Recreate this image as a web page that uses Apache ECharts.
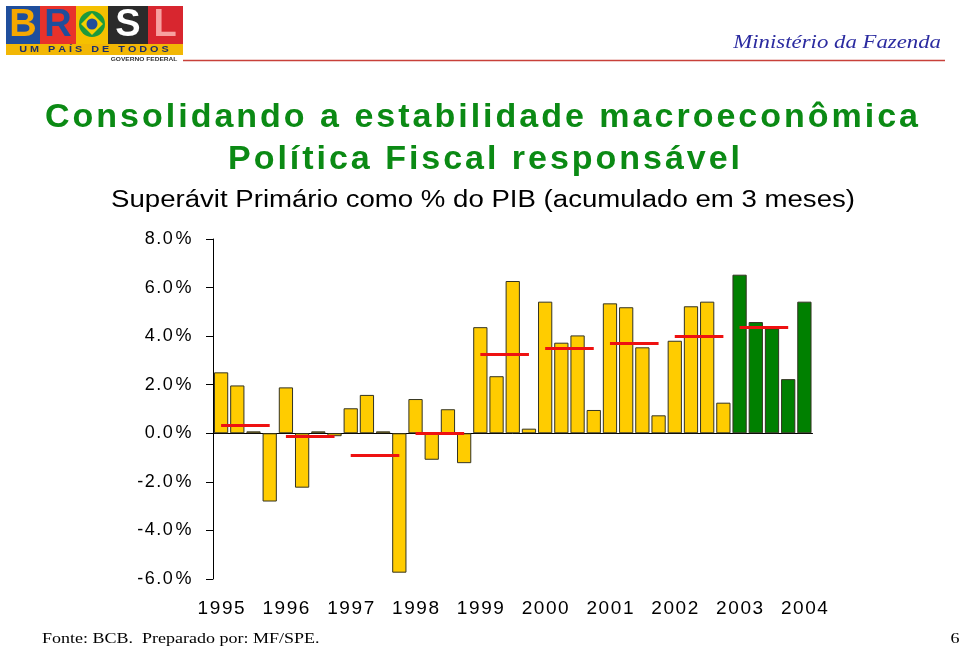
<!DOCTYPE html>
<html><head><meta charset="utf-8">
<script src="https://cdn.jsdelivr.net/npm/echarts@6/dist/echarts.min.js"></script>
<style>html,body{margin:0;padding:0;background:#fff}#c{width:960px;height:651px}</style>
</head><body><div id="c"></div>
<script>
// ---- data ----
const categories = [
  '1995 T1','1995 T2','1995 T3','1995 T4',
  '1996 T1','1996 T2','1996 T3','1996 T4',
  '1997 T1','1997 T2','1997 T3','1997 T4',
  '1998 T1','1998 T2','1998 T3','1998 T4',
  '1999 T1','1999 T2','1999 T3','1999 T4',
  '2000 T1','2000 T2','2000 T3','2000 T4',
  '2001 T1','2001 T2','2001 T3','2001 T4',
  '2002 T1','2002 T2','2002 T3','2002 T4',
  '2003 T1','2003 T2','2003 T3','2003 T4',
  '2004 T1'
];
const surplus = [
  2.51, 1.97, 0.08, -2.81,
  1.89, -2.24, 0.08, -0.12,
  1.03, 1.58, 0.08, -5.74,
  1.41, -1.09, 0.99, -1.23,
  4.37, 2.35, 6.27, 0.19,
  5.42, 3.73, 4.03, 0.96,
  5.35, 5.19, 3.54, 0.74,
  3.81, 5.23, 5.42, 1.26,
  6.53, 4.58, 4.32, 2.23,
  5.42
];
const avgYears = ['1995','1996','1997','1998','1999','2000','2001','2002','2003'];
const annualAverage = [0.35, -0.11, -0.92, 0.01, 3.27, 3.50, 3.69, 4.00, 4.35];
const greenFromYear = '2003';

// ---- helpers ----
const SANS = '"Liberation Sans", Arial, sans-serif';
const SERIF = '"Liberation Serif", "Times New Roman", serif';
function richChars(str) {
  return str.split('').map(ch => {
    const k = ch === '.' ? 'p' : ch === '%' ? 'c' : ch === '-' ? 'm' : 'd';
    return '{' + k + '|' + ch + '}';
  }).join('');
}
function richStyles(size, f) {
  const base = {fontSize: size, fontFamily: SANS, color: '#000', align: 'center'};
  return {
    d: Object.assign({width: size * 0.556 * f}, base),
    p: Object.assign({width: size * 0.278 * f}, base),
    c: Object.assign({width: size * 0.889 * f}, base),
    m: Object.assign({width: size * 0.333 * f}, base)
  };
}
function txt(x, y, text, o) {
  return {
    type: 'text', x: x, y: y, scaleX: o.sx || 1, z: 20,
    style: {
      text: text, fill: o.color || '#000', fontSize: o.size, fontFamily: o.family || SANS,
      fontWeight: o.weight || 'normal', fontStyle: o.style || 'normal',
      align: o.align || 'center', verticalAlign: 'middle',
      textAlign: o.align || 'center', textVerticalAlign: 'middle'
    }
  };
}
// letter-spaced text spanning [x0, x1]
const mctx = document.createElement('canvas').getContext('2d');
function spaced(x0, x1, y, text, o) {
  mctx.font = (o.weight || 'normal') + ' ' + o.size + 'px ' + (o.family || SANS);
  const chars = text.split('');
  const widths = chars.map(c => mctx.measureText(c).width);
  const natural = widths.reduce((a, b) => a + b, 0);
  const gap = (x1 - x0 - natural) / (chars.length - 1);
  const out = [];
  let x = x0;
  chars.forEach((c, i) => {
    if (c !== ' ') out.push(txt(x, y, c, Object.assign({}, o, {align: 'left'})));
    x += widths[i] + gap;
  });
  return out;
}
function rect(x, y, w, h, fill) {
  return {type: 'rect', shape: {x: x, y: y, width: w, height: h}, style: {fill: fill}, z: 5};
}

// ---- average lines ----
const avgLines = avgYears.map((yr, i) => [
  {coord: [categories.indexOf(yr + ' T1'), annualAverage[i]]},
  {coord: [categories.indexOf(yr + ' T4'), annualAverage[i]]}
]);

const titleGreen = '#0B8A14';
const graphics = [
  // logo (approximation)
  rect(6, 6, 34, 38, '#1F4E9C'),
  rect(40, 6, 36, 38, '#E8322B'),
  rect(76, 6, 32, 38, '#F5C000'),
  rect(108, 6, 40, 38, '#2B2B2B'),
  rect(148, 6, 35, 38, '#D8262F'),
  txt(23, 26, 'B', {size: 38, weight: 'bold', color: '#F6A800'}),
  txt(58, 26, 'R', {size: 38, weight: 'bold', color: '#1F4E9C'}),
  {type: 'circle', shape: {cx: 92, cy: 24, r: 13}, style: {fill: '#1B9A3C'}, z: 6},
  {type: 'polygon', shape: {points: [[92, 13], [103, 24], [92, 35], [81, 24]]}, style: {fill: '#F5D000'}, z: 7},
  {type: 'circle', shape: {cx: 92, cy: 24, r: 5.5}, style: {fill: '#1F4E9C'}, z: 8},
  txt(128, 26, 'S', {size: 38, weight: 'bold', color: '#FFFFFF'}),
  txt(165, 26, 'L', {size: 38, weight: 'bold', color: '#F7A0A0'}),
  rect(6, 44, 177, 11, '#F2B705'),
  txt(94, 49.5, 'U M   P A Í S   D E   T O D O S', {size: 9, weight: 'bold', color: '#1B2F6B', sx: 1.2}),
  txt(144, 59, 'GOVERNO FEDERAL', {size: 6, weight: 'bold', color: '#333', sx: 1.1}),
  {type: 'line', shape: {x1: 183, y1: 60.5, x2: 945, y2: 60.5}, style: {stroke: '#C8403A', lineWidth: 1.5}, z: 5},
  txt(941, 43, 'Ministério da Fazenda', {size: 19, family: SERIF, style: 'italic', color: '#2B2BA0', align: 'right', sx: 1.2}),
  // subtitle
  txt(483, 201, 'Superávit Primário como % do PIB (acumulado em 3 meses)', {size: 23, color: '#000', sx: 1.2}),
  // footer
  txt(42, 639, 'Fonte: BCB.  Preparado por: MF/SPE.', {size: 15, family: SERIF, color: '#000', align: 'left', sx: 1.2}),
  txt(955, 639, '6', {size: 15, family: SERIF, color: '#000', sx: 1.2})
].concat(
  spaced(45, 918, 118, 'Consolidando a estabilidade macroeconômica', {size: 34, weight: 'bold', color: titleGreen}),
  spaced(228, 740, 160, 'Política Fiscal responsável', {size: 34, weight: 'bold', color: titleGreen})
);

const chart = echarts.init(document.getElementById('c'), null, {renderer: 'canvas'});
chart.setOption({
  animation: false,
  backgroundColor: '#fff',
  grid: {left: 213, right: 147.5, top: 239, bottom: 72},
  graphic: {elements: graphics},
  xAxis: [
    {
      type: 'category', data: categories, position: 'bottom',
      axisLine: {onZero: true, lineStyle: {color: '#000', width: 1}},
      axisTick: {interval: 3, length: 5, lineStyle: {color: '#000'}},
      axisLabel: {show: false},
      splitLine: {show: false}
    },
    {
      type: 'category', data: categories, position: 'bottom',
      axisLine: {show: false, onZero: false},
      axisTick: {show: false},
      axisLabel: {
        interval: 3, margin: 20,
        formatter: v => richChars(v.slice(0, 4)),
        rich: richStyles(19, 1.15)
      },
      splitLine: {show: false}
    }
  ],
  yAxis: {
    type: 'value', min: -6, max: 8, interval: 2,
    axisLine: {show: true, lineStyle: {color: '#000', width: 1}},
    axisTick: {show: true, length: 7, lineStyle: {color: '#000'}},
    splitLine: {show: false},
    axisLabel: {
      margin: 20,
      formatter: v => richChars(v.toFixed(1) + '%'),
      rich: richStyles(18, 1.2)
    }
  },
  series: [{
    type: 'bar', xAxisIndex: 0, data: surplus, barCategoryGap: '12%',
    itemStyle: {
      borderColor: '#333322', borderWidth: 1,
      color: p => categories[p.dataIndex].slice(0, 4) >= greenFromYear ? '#008000' : '#FFCC00'
    },
    markLine: {
      silent: true, symbol: ['none', 'none'], label: {show: false},
      lineStyle: {color: '#EE1111', width: 3, type: 'solid'},
      emphasis: {disabled: true},
      data: avgLines
    }
  }]
});
</script>
</body></html>
